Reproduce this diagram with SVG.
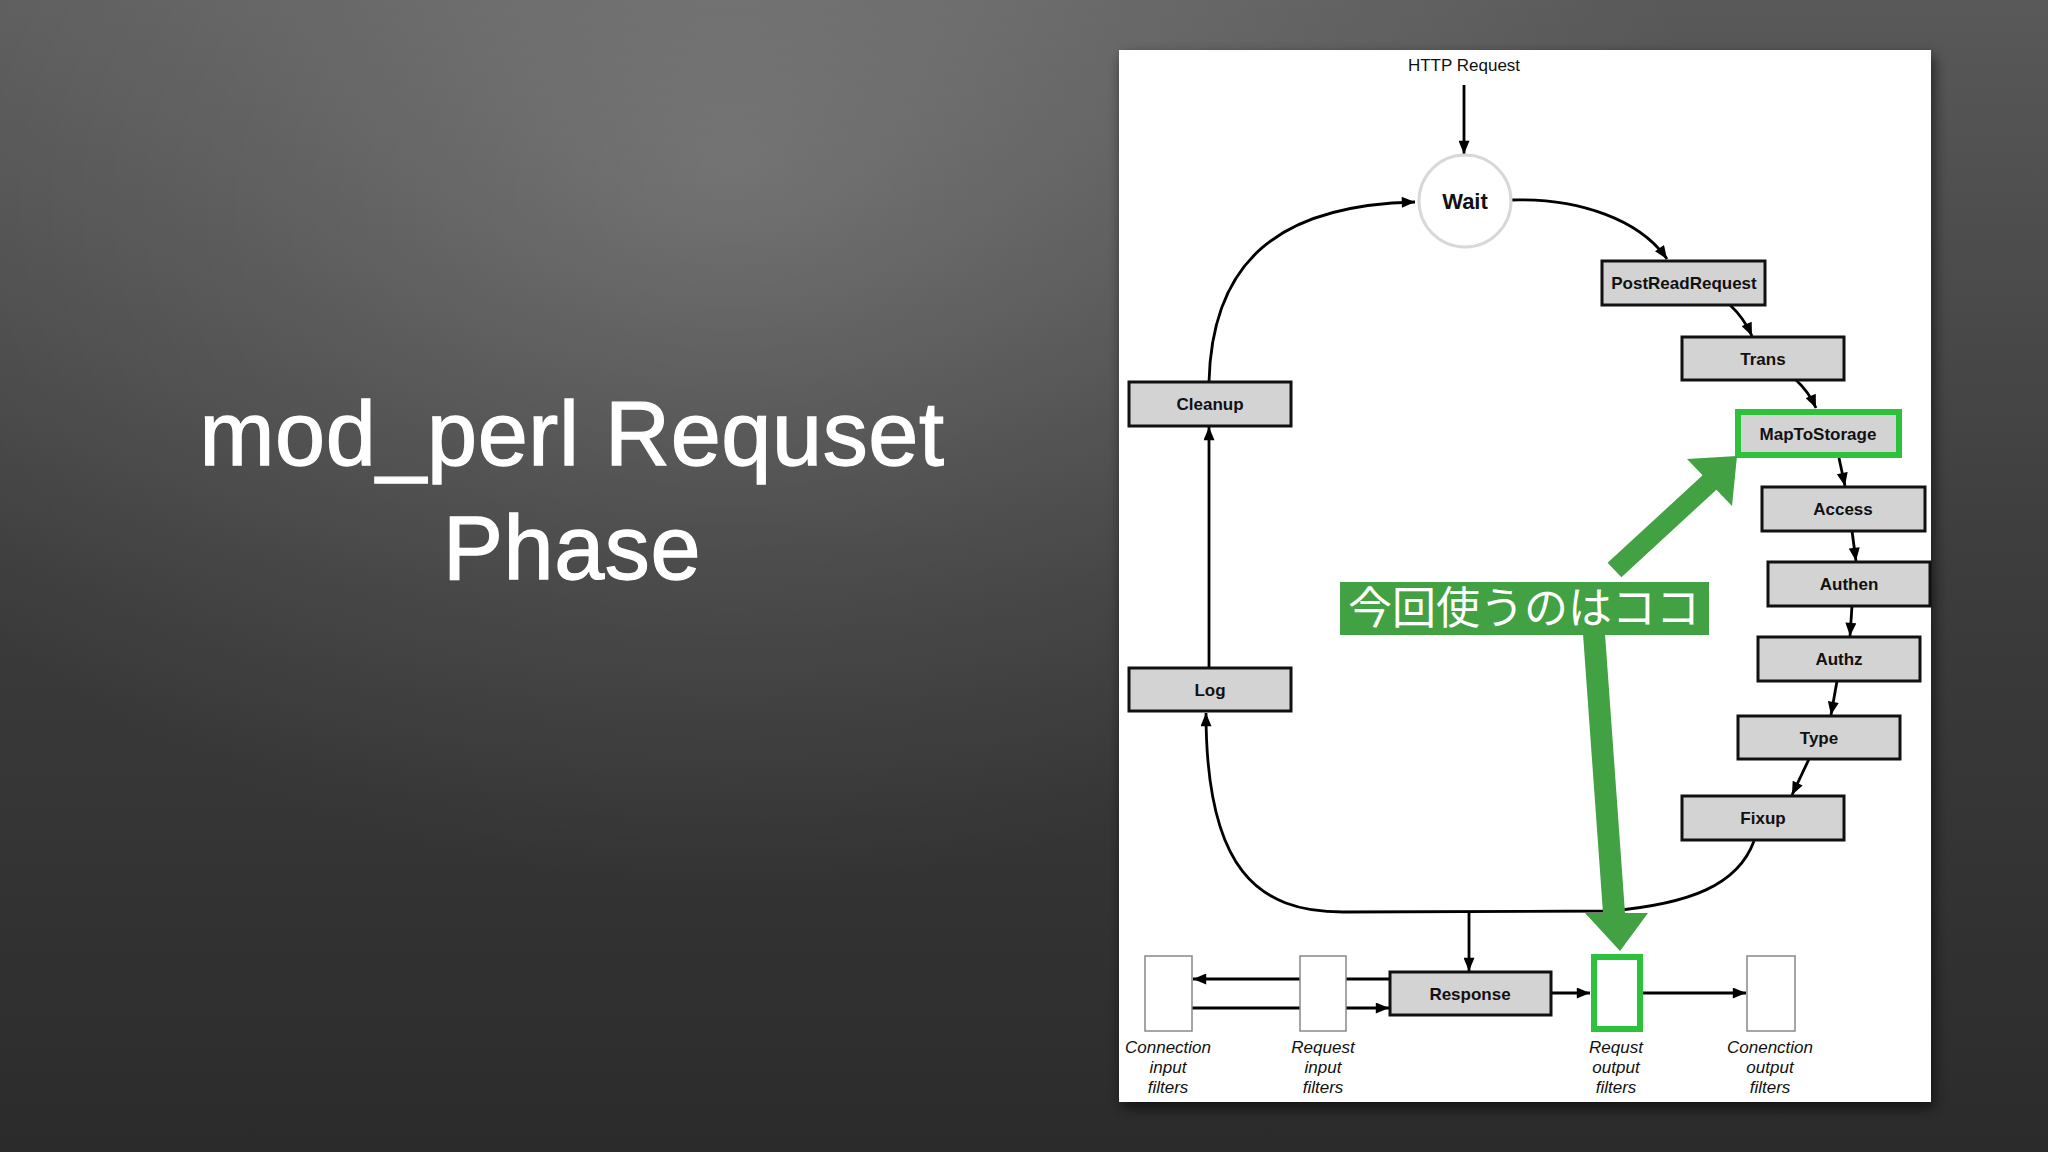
<svg xmlns="http://www.w3.org/2000/svg" width="2048" height="1152" viewBox="0 0 2048 1152">
<defs>
<linearGradient id="bgbase" x1="0" y1="0" x2="0" y2="1">
<stop offset="0" stop-color="#595959"/>
<stop offset="0.5" stop-color="#3c3c3c"/>
<stop offset="1" stop-color="#2b2b2b"/>
</linearGradient>
<radialGradient id="bghi" gradientUnits="userSpaceOnUse" cx="730" cy="170" r="720" gradientTransform="translate(730 170) scale(1.35 1) translate(-730 -170)">
<stop offset="0" stop-color="#fff" stop-opacity="0.2"/>
<stop offset="0.5" stop-color="#fff" stop-opacity="0.09"/>
<stop offset="1" stop-color="#fff" stop-opacity="0"/>
</radialGradient>
<filter id="shadow" x="-10%" y="-10%" width="120%" height="120%">
<feDropShadow dx="3" dy="6" stdDeviation="7" flood-color="#000" flood-opacity="0.6"/>
</filter>
<marker id="arr" viewBox="0 0 12 10" refX="12" refY="5" markerWidth="14" markerHeight="11" markerUnits="userSpaceOnUse" orient="auto">
<path d="M0,0 L12,5 L0,10 Z" fill="#000"/>
</marker>
<style>
.title{font-family:"Liberation Sans",Arial,sans-serif;font-size:90px;fill:#fff;stroke:#fff;stroke-width:1.3px;letter-spacing:0.6px;text-anchor:middle}
.box{fill:#d3d3d3;stroke:#111;stroke-width:3}
.hl{fill:#d3d3d3;stroke:#2ec23c;stroke-width:6}
.lbl{font-family:"Liberation Sans",Arial,sans-serif;font-size:17px;font-weight:bold;fill:#111;text-anchor:middle}
.wait{font-size:22px}
.plain{font-family:"Liberation Sans",Arial,sans-serif;font-size:17px;fill:#111;text-anchor:middle}
.it{font-family:"Liberation Sans",Arial,sans-serif;font-size:17px;font-style:italic;fill:#111;text-anchor:middle}
.filt{fill:#fff;stroke:#888;stroke-width:1.5}
.con{fill:none;stroke:#000;stroke-width:2.8}
.green{fill:#42a142}
.jp{font-family:"Noto Sans CJK JP",sans-serif;font-size:44px;fill:#fff;text-anchor:middle}
</style>
</defs>
<rect x="0" y="0" width="2048" height="1152" fill="url(#bgbase)"/>
<rect x="0" y="0" width="2048" height="1152" fill="url(#bghi)"/>
<g id="title">
<text class="title" x="572" y="465">mod_perl Requset</text>
<text class="title" x="572" y="579">Phase</text>
</g>
<rect id="panel" x="1119" y="50" width="812" height="1052" fill="#fff" filter="url(#shadow)"/>
<text id="http-request" class="plain" x="1464" y="71">HTTP Request</text>
<g id="connectors">
<line class="con" x1="1464" y1="85" x2="1464" y2="154" marker-end="url(#arr)"/>
<path class="con" d="M1511,200 C1580,198 1640,220 1667,259" marker-end="url(#arr)"/>
<path class="con" d="M1209,382 C1212,260 1280,205 1415,202" marker-end="url(#arr)"/>
<path class="con" d="M1730,305 Q1744,318 1752,336" marker-end="url(#arr)"/>
<path class="con" d="M1796,380 Q1809,392 1816,408" marker-end="url(#arr)"/>
<line class="con" x1="1839" y1="458" x2="1845" y2="486" marker-end="url(#arr)"/>
<line class="con" x1="1852" y1="531" x2="1856" y2="561" marker-end="url(#arr)"/>
<line class="con" x1="1852" y1="606" x2="1850" y2="636" marker-end="url(#arr)"/>
<line class="con" x1="1837" y1="681" x2="1831" y2="715" marker-end="url(#arr)"/>
<line class="con" x1="1809" y1="759" x2="1792" y2="795" marker-end="url(#arr)"/>
<line class="con" x1="1209" y1="668" x2="1209" y2="427" marker-end="url(#arr)"/>
<path class="con" d="M1754,841 C1738,885 1690,904 1610,911 L1343,912 C1258,912 1206,870 1206,713" marker-end="url(#arr)"/>
<line class="con" x1="1469" y1="912" x2="1469" y2="971" marker-end="url(#arr)"/>
<line class="con" x1="1390" y1="979" x2="1193" y2="979" marker-end="url(#arr)"/>
<line class="con" x1="1192" y1="1008" x2="1389" y2="1008" marker-end="url(#arr)"/>
<line class="con" x1="1551" y1="993" x2="1590" y2="993" marker-end="url(#arr)"/>
<line class="con" x1="1643" y1="993" x2="1746" y2="993" marker-end="url(#arr)"/>
</g>
<g id="node-wait">
<circle cx="1465" cy="201" r="46" fill="#fff" stroke="#d8d8d8" stroke-width="3"/>
<text class="lbl wait" x="1465" y="209">Wait</text>
</g>
<g id="node-postreadrequest"><rect class="box" x="1602" y="261" width="163" height="44"/><text class="lbl" x="1684" y="289">PostReadRequest</text></g>
<g id="node-trans"><rect class="box" x="1682" y="337" width="162" height="43"/><text class="lbl" x="1763" y="365">Trans</text></g>
<g id="node-maptostorage"><rect class="hl" x="1738" y="412" width="161" height="43"/><text class="lbl" x="1818" y="440">MapToStorage</text></g>
<g id="node-access"><rect class="box" x="1762" y="487" width="163" height="44"/><text class="lbl" x="1843" y="515">Access</text></g>
<g id="node-authen"><rect class="box" x="1768" y="562" width="162" height="44"/><text class="lbl" x="1849" y="590">Authen</text></g>
<g id="node-authz"><rect class="box" x="1758" y="637" width="162" height="44"/><text class="lbl" x="1839" y="665">Authz</text></g>
<g id="node-type"><rect class="box" x="1738" y="716" width="162" height="43"/><text class="lbl" x="1819" y="744">Type</text></g>
<g id="node-fixup"><rect class="box" x="1682" y="796" width="162" height="44"/><text class="lbl" x="1763" y="824">Fixup</text></g>
<g id="node-cleanup"><rect class="box" x="1129" y="382" width="162" height="44"/><text class="lbl" x="1210" y="410">Cleanup</text></g>
<g id="node-log"><rect class="box" x="1129" y="668" width="162" height="43"/><text class="lbl" x="1210" y="696">Log</text></g>
<g id="node-response"><rect class="box" x="1390" y="972" width="161" height="43"/><text class="lbl" x="1470" y="1000">Response</text></g>
<g id="node-conn-input">
<rect class="filt" x="1145" y="956" width="47" height="75"/>
<text class="it" x="1168" y="1053">Connection</text><text class="it" x="1168" y="1073">input</text><text class="it" x="1168" y="1093">filters</text>
</g>
<g id="node-req-input">
<rect class="filt" x="1300" y="956" width="46" height="75"/>
<text class="it" x="1323" y="1053">Request</text><text class="it" x="1323" y="1073">input</text><text class="it" x="1323" y="1093">filters</text>
</g>
<g id="node-req-output">
<rect x="1594" y="957" width="46" height="72" fill="#fff" stroke="#2ec23c" stroke-width="6"/>
<text class="it" x="1616" y="1053">Requst</text><text class="it" x="1616" y="1073">output</text><text class="it" x="1616" y="1093">filters</text>
</g>
<g id="node-conn-output">
<rect class="filt" x="1747" y="956" width="48" height="75"/>
<text class="it" x="1770" y="1053">Conenction</text><text class="it" x="1770" y="1073">output</text><text class="it" x="1770" y="1093">filters</text>
</g>
<g id="annotation">
<polygon class="green" points="1607.6,562.8 1702.6,475.3 1687,459 1737,456 1732,506 1716.4,489.7 1621.4,577.2"/>
<polygon class="green" points="1583,634 1605,634 1625,913 1648,913 1620,951 1585,913 1603,913"/>
<rect class="green" x="1340" y="582" width="369" height="53"/>
<text class="jp" x="1524" y="624">今回使うのはココ</text>
</g>
</svg>
